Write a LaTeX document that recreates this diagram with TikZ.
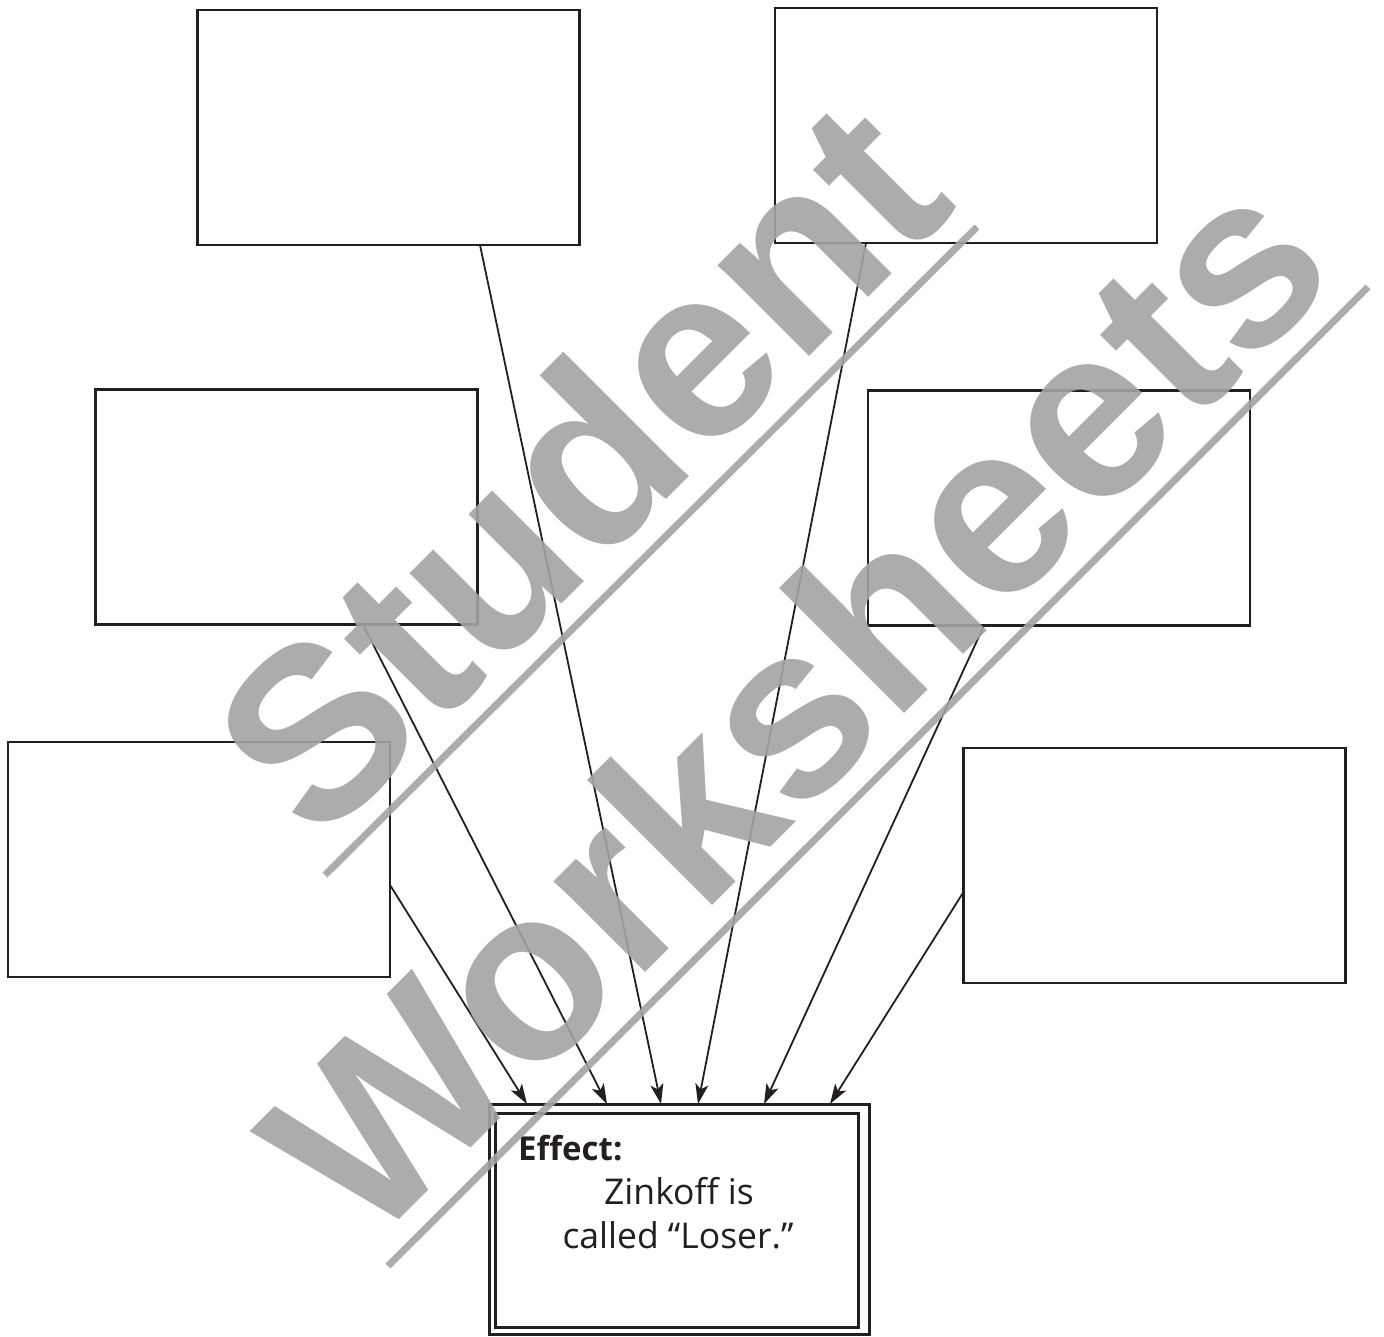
\documentclass[tikz,border=0pt]{standalone}
\usepackage{fontspec}
\setmainfont{Open Sans}
\newfontfamily\wmfont{Liberation Sans}
\usetikzlibrary{arrows.meta,calc}
\definecolor{wmgray}{RGB}{164,164,164}
\definecolor{ink}{RGB}{35,31,32}
\begin{document}
\begin{tikzpicture}[x=1pt,y=-1pt,
  causebox/.style={draw=ink, line width=2.4pt, fill=white, minimum width=382pt, minimum height=235pt, inner sep=0pt, outer sep=0pt},
  link/.style={draw=ink, line width=1.8pt, -{Stealth[length=20pt,width=13pt,inset=5pt]}},
  wmtext/.style={rotate=45, anchor=base west, inner sep=0pt, outer sep=0pt, text=wmgray, opacity=0.9, font=\wmfont\bfseries\fontsize{244pt}{244pt}\selectfont},
  wmline/.style={draw=wmgray, opacity=0.9, line width=7pt, line cap=butt},
  efftext/.style={inner sep=0pt, font=\fontsize{35.5pt}{44pt}\selectfont, text=ink},
  frame/.style={draw=ink, line width=3pt, inner sep=0pt, outer sep=0pt}
]
\useasboundingbox (0,0) rectangle (1384,1336);
\fill[white] (0,0) rectangle (1384,1336);

% cause boxes
\node[causebox] (b1) at (388.5,127.5) {};
\node[causebox] (b2) at (966,125.5) {};
\node[causebox] (b3) at (286.5,507) {};
\node[causebox] (b4) at (1059,508) {};
\node[causebox] (b5) at (199,859.5) {};
\node[causebox] (b6) at (1154.5,865.5) {};

% effect box (double frame)
\node[frame, minimum width=380pt, minimum height=230pt] (eff) at (679,1219) {};
\node[frame, minimum width=363pt, minimum height=214pt] (effin) at (676.5,1220) {};

\node[efftext, anchor=base west, font=\bfseries\fontsize{33pt}{44pt}\selectfont] (efflabel) at (518,1160) {Effect:};
\node[efftext, anchor=base] (effl1) at (679,1204) {Zinkoff is};
\node[efftext, anchor=base] (effl2) at (678,1248) {called “Loser.”};

% connector end points
\coordinate (s1) at ([xshift=91.5pt]b1.south);
\coordinate (s2) at ([xshift=-100pt]b2.south);
\coordinate (s3) at ([xshift=76.5pt]b3.south);
\coordinate (s4) at ([xshift=-75pt]b4.south);
\coordinate (s5) at ([yshift=-25.5pt]b5.east);
\coordinate (s6) at ([yshift=-26.5pt]b6.west);

\coordinate (t5) at ([xshift=-152pt]eff.north);
\coordinate (t3) at ([xshift=-72pt]eff.north);
\coordinate (t1) at ([xshift=-18pt]eff.north);
\coordinate (t2) at ([xshift=19pt]eff.north);
\coordinate (t4) at ([xshift=85pt]eff.north);
\coordinate (t6) at ([xshift=151pt]eff.north);

\draw[link] (s5) -- (t5);
\draw[link] (s3) -- (t3);
\draw[link] (s1) -- (t1);
\draw[link] (s2) -- (t2);
\draw[link] (s4) -- (t4);
\draw[link] (s6) -- (t6);

% watermark
\node[wmtext] (wm1) at (318,848) {Student};
\node[wmtext] (wm2) at (368,1250) {Worksheets};
\coordinate (l1a) at (325,875);
\coordinate (l1b) at (977,227);
\coordinate (l2a) at (388,1266);
\coordinate (l2b) at (1368,287);
\draw[wmline] (l1a) -- (l1b);
\draw[wmline] (l2a) -- (l2b);
\end{tikzpicture}
\end{document}
